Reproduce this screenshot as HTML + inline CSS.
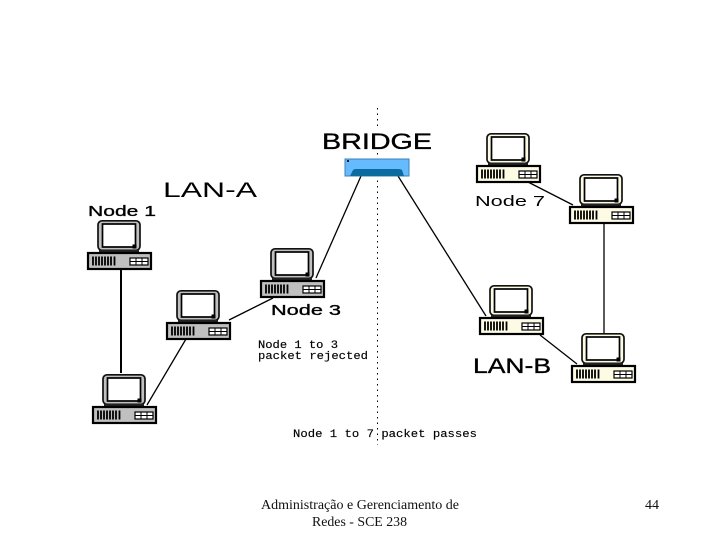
<!DOCTYPE html>
<html>
<head>
<meta charset="utf-8">
<style>
html,body{margin:0;padding:0;background:#fff;width:720px;height:540px;overflow:hidden}
svg{display:block}
.big{font-family:"Liberation Sans",sans-serif;fill:#000;stroke:#000;stroke-width:.35}
.mono{font-family:"Liberation Mono",monospace;font-size:11px;fill:#000;stroke:#000;stroke-width:.15}
.foot{font-family:"Liberation Serif",serif;font-size:14px;fill:#111}
</style>
</head>
<body>
<svg width="720" height="540" viewBox="0 0 720 540" xmlns="http://www.w3.org/2000/svg">
<defs>
<g id="pc">
  <rect x="11" y="0.8" width="42" height="29.5" rx="4" fill="currentColor" stroke="#111" stroke-width="1.7"/>
  <rect x="15.5" y="4" width="33" height="23" fill="#fff" stroke="#000" stroke-width="1.7"/>
  <rect x="45.5" y="24.5" width="4" height="4" fill="#000"/>
  <rect x="12" y="30" width="40" height="2.500" fill="#222"/>
  <rect x="1" y="33" width="63" height="16" fill="currentColor" stroke="#000" stroke-width="2.200"/>
  <path d="M6 36.500v9M9 36.500v9M12 36.500v9M15 36.500v9M18 36.500v9M21 36.500v9M24 36.500v9M27.500 36.500v9" stroke="#000" stroke-width="1.800"/>
  <rect x="43" y="38" width="18" height="7" fill="#fff" stroke="#000" stroke-width="1.200"/>
  <path d="M43 41.500h18M49 38v7M55 38v7" stroke="#000" stroke-width="1"/>
</g>
</defs>

<line x1="377.500" y1="108" x2="377.500" y2="130" stroke="#000" stroke-width="1" stroke-dasharray="1.500 4"/>
<line x1="377.500" y1="153" x2="377.500" y2="445" stroke="#000" stroke-width="1" stroke-dasharray="1.500 4"/>

<g stroke="#000" fill="none">
  <line x1="121" y1="269" x2="121" y2="373" stroke-width="2"/>
  <line x1="147" y1="405" x2="186" y2="339" stroke-width="1.300"/>
  <line x1="229" y1="320" x2="273" y2="298" stroke-width="1.300"/>
  <line x1="316" y1="278" x2="361" y2="176" stroke-width="1.300"/>
  <line x1="398" y1="176" x2="486" y2="316" stroke-width="1.300"/>
  <line x1="528" y1="182" x2="573" y2="205" stroke-width="1.300"/>
  <line x1="604" y1="223" x2="604" y2="333" stroke-width="1.300"/>
  <line x1="540" y1="335" x2="577" y2="364" stroke-width="1.300"/>
</g>

<use href="#pc" x="87" y="220" style="color:#c0c0c0"/>
<use href="#pc" x="166" y="290" style="color:#c0c0c0"/>
<use href="#pc" x="260" y="248" style="color:#c0c0c0"/>
<use href="#pc" x="92" y="374" style="color:#c0c0c0"/>
<use href="#pc" x="476" y="133" style="color:#fdfbe4"/>
<use href="#pc" x="569" y="174" style="color:#fdfbe4"/>
<use href="#pc" x="479" y="285" style="color:#fdfbe4"/>
<use href="#pc" x="571" y="333" style="color:#fdfbe4"/>

<rect x="345" y="159" width="64" height="17" fill="#66bbff" stroke="#3a7fb5" stroke-width="1"/>
<path d="M350 176 L353 170 Q354 169 356 169 L398 169 Q401 169 402 170 L404 176 Z" fill="#0b6a9e"/>
<rect x="347" y="160" width="2" height="2" fill="#123"/>

<text class="big" x="322" y="149" font-size="22" textLength="110" lengthAdjust="spacingAndGlyphs">BRIDGE</text>
<text class="big" x="163" y="197" font-size="21" textLength="94" lengthAdjust="spacingAndGlyphs" style="stroke-width:0">LAN-A</text>
<text class="big" x="473" y="373" font-size="21" textLength="78" lengthAdjust="spacingAndGlyphs">LAN-B</text>
<text class="big" x="88" y="216" font-size="15" textLength="68" lengthAdjust="spacingAndGlyphs">Node 1</text>
<text class="big" x="475" y="206" font-size="15" textLength="70" lengthAdjust="spacingAndGlyphs" style="stroke-width:0">Node 7</text>
<text class="big" x="271" y="315" font-size="15" textLength="70" lengthAdjust="spacingAndGlyphs">Node 3</text>

<text class="mono" x="258" y="348" textLength="80" lengthAdjust="spacingAndGlyphs">Node 1 to 3</text>
<text class="mono" x="258" y="359" textLength="110" lengthAdjust="spacingAndGlyphs">packet rejected</text>
<text class="mono" x="293" y="437" textLength="184" lengthAdjust="spacingAndGlyphs">Node 1 to 7 packet passes</text>

<text class="foot" x="261" y="509" textLength="198" lengthAdjust="spacingAndGlyphs">Administração e Gerenciamento de</text>
<text class="foot" x="312" y="526" textLength="95" lengthAdjust="spacingAndGlyphs">Redes - SCE 238</text>
<text class="foot" x="645" y="509">44</text>
</svg>
</body>
</html>
